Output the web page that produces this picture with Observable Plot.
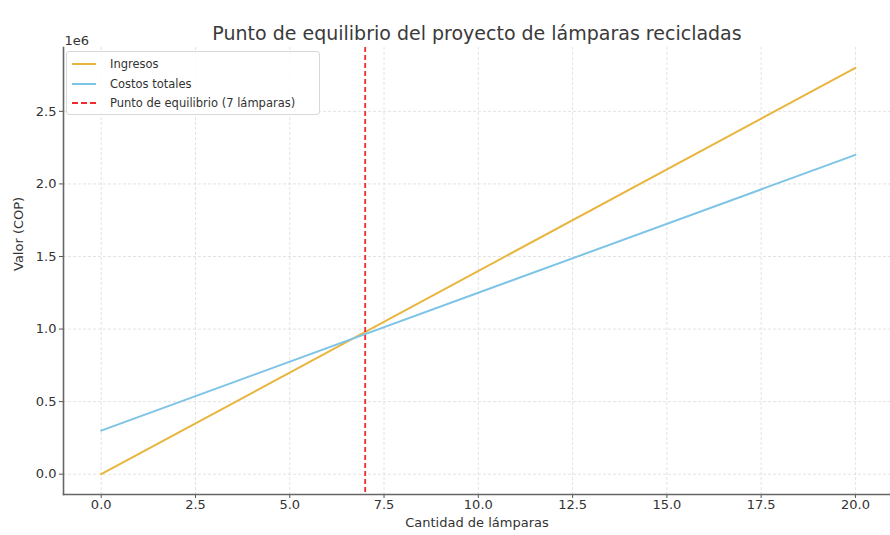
<!DOCTYPE html>
<html>
<head>
<meta charset="utf-8">
<script src="https://cdn.jsdelivr.net/npm/d3@7"></script>
<script src="https://cdn.jsdelivr.net/npm/@observablehq/plot@0.6"></script>
<style>
  html, body { margin: 0; padding: 0; background: #fff; overflow: hidden; }
  #wrap { position: relative; width: 890px; height: 535px; font-family: "DejaVu Sans", sans-serif; }
  #legend { position: absolute; left: 66px; top: 51px; width: 252px; height: 62px; border: 1px solid #d8d8d8; border-radius: 3px; background: rgba(255,255,255,0.85); font-size: 11.5px; color: #333; }
  .row { position: absolute; left: 5px; height: 18px; display: flex; align-items: center; }
  .sw { width: 24px; height: 0; margin-right: 14px; }
</style>
</head>
<body>
<div id="wrap"></div>
<script>
const cantidades = [0, 20];
const ingresos = [0, 2800000];
const costos = [300000, 2200000];
const equilibrio = 7;
const xTicks = [0, 2.5, 5, 7.5, 10, 12.5, 15, 17.5, 20];
const yTicks = [0, 0.5, 1.0, 1.5, 2.0, 2.5];
const seriesNames = ["Ingresos", "Costos totales", "Punto de equilibrio (7 lámparas)"];
const colors = ["#e8b53e", "#7ec4e6", "#f42a2a"];

const ingData = cantidades.map((x, i) => ({x, y: ingresos[i] / 1e6}));
const cosData = cantidades.map((x, i) => ({x, y: costos[i] / 1e6}));

const chart = Plot.plot({
  width: 890,
  height: 535,
  marginLeft: 63,
  marginRight: 0,
  marginTop: 47,
  marginBottom: 41,
  style: {fontFamily: "DejaVu Sans, sans-serif", fontSize: "13px", color: "#333", background: "#fff"},
  x: {domain: [-1, 20.93], label: null},
  y: {domain: [-0.14, 2.94], label: null},
  marks: [
    Plot.gridX(xTicks, {stroke: "#dcdcdc", strokeOpacity: 1, strokeWidth: 0.8, strokeDasharray: "3,2"}),
    Plot.gridY(yTicks, {stroke: "#dcdcdc", strokeOpacity: 1, strokeWidth: 0.8, strokeDasharray: "3,2"}),
    Plot.axisX({ticks: xTicks, tickFormat: d => d.toFixed(1), label: null, tickSize: 4, tickPadding: 1, stroke: "#555", fill: "#333", fontSize: 13}),
    Plot.axisY({ticks: yTicks, tickFormat: d => d.toFixed(1), label: null, tickSize: 4, tickPadding: 3, stroke: "#555", fill: "#333", fontSize: 13}),
    Plot.frame({anchor: "left", stroke: "#666", strokeWidth: 1.6}),
    Plot.frame({anchor: "bottom", stroke: "#666", strokeWidth: 1.6}),
    Plot.line(ingData, {x: "x", y: "y", stroke: colors[0], strokeWidth: 2}),
    Plot.line(cosData, {x: "x", y: "y", stroke: colors[1], strokeWidth: 2}),
    Plot.ruleX([equilibrio], {stroke: colors[2], strokeWidth: 1.8, strokeDasharray: "5,3"}),
    Plot.text(["Punto de equilibrio del proyecto de lámparas recicladas"], {frameAnchor: "top", dy: -21, fontSize: 19, fill: "#3a3a3a"}),
    Plot.text(["1e6"], {frameAnchor: "top-left", textAnchor: "start", dx: 1, dy: -12, fontSize: 13, fill: "#333"}),
    Plot.text(["Cantidad de lámparas"], {frameAnchor: "bottom", dy: 32, fontSize: 13, fill: "#333"}),
    Plot.text(["Valor (COP)"], {frameAnchor: "left", dx: -45, rotate: -90, fontSize: 13, fill: "#333"})
  ]
});
const wrap = document.getElementById("wrap");
wrap.appendChild(chart);

const legend = document.createElement("div");
legend.id = "legend";
seriesNames.forEach((name, i) => {
  const row = document.createElement("div");
  row.className = "row";
  row.style.top = (3 + i * 19.5) + "px";
  const sw = document.createElement("div");
  sw.className = "sw";
  sw.style.borderTop = (i === 2 ? "2px dashed " : "2px solid ") + colors[i];
  const t = document.createElement("span");
  t.textContent = name;
  row.appendChild(sw); row.appendChild(t);
  legend.appendChild(row);
});
wrap.appendChild(legend);
</script>
</body>
</html>
